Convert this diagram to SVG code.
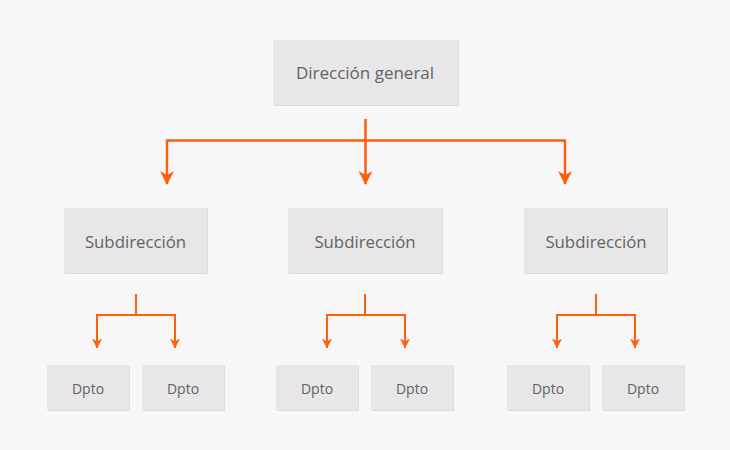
<svg xmlns="http://www.w3.org/2000/svg" width="730" height="450" viewBox="0 0 730 450">
<defs>
<marker id="ab" viewBox="0 0 14 14" refX="7" refY="13" markerWidth="14" markerHeight="14" markerUnits="userSpaceOnUse">
<path d="M0,0 L7,4 L14,0 L7,14 Z" fill="#ff5f0f"/>
</marker>
<marker id="as" viewBox="0 0 10 10" refX="5" refY="9.5" markerWidth="10" markerHeight="10" markerUnits="userSpaceOnUse">
<path d="M0,0 L5,3 L10,0 L5,10 Z" fill="#ff5f0f"/>
</marker>
</defs>
<style>
.bx{fill:#e8e6e8}
.sh{fill:#dcdadc}
.t{font-family:"Open Sans","Noto Sans",sans-serif;fill:#636363;text-anchor:middle;dominant-baseline:central}
.c{fill:none;stroke:#ff5f0f;stroke-linejoin:miter}
</style>
<rect width="730" height="450" fill="#f7f7f7"/>
<g id="connectors">
<path class="c" stroke-width="2.5" d="M365.5,119 V140.5 M167,140.5 H565"/>
<path class="c" stroke-width="2.5" marker-end="url(#ab)" d="M167,139.5 V184"/>
<path class="c" stroke-width="2.5" marker-end="url(#ab)" d="M365.5,140 V184"/>
<path class="c" stroke-width="2.5" marker-end="url(#ab)" d="M565,139.5 V184"/>
<path class="c" stroke-width="2" d="M136,294 V315 M97,315 H175"/>
<path class="c" stroke-width="2" marker-end="url(#as)" d="M97,314 V348"/>
<path class="c" stroke-width="2" marker-end="url(#as)" d="M175,314 V348"/>
<path class="c" stroke-width="2" d="M365,294 V315 M327,315 H405"/>
<path class="c" stroke-width="2" marker-end="url(#as)" d="M327,314 V348"/>
<path class="c" stroke-width="2" marker-end="url(#as)" d="M405,314 V348"/>
<path class="c" stroke-width="2" d="M596,294 V315 M557,315 H635"/>
<path class="c" stroke-width="2" marker-end="url(#as)" d="M557,314 V348"/>
<path class="c" stroke-width="2" marker-end="url(#as)" d="M635,314 V348"/>
</g>
<g id="n-dg"><rect class="sh" x="274" y="41" width="185" height="65"/><rect class="bx" x="273" y="40" width="185" height="65"/><text class="t" x="365" y="72.5" font-size="17">Dirección general</text></g>
<g id="n-s1"><rect class="sh" x="65" y="209" width="143" height="65"/><rect class="bx" x="64" y="208" width="143" height="65"/><text class="t" x="135.5" y="241" font-size="16.8">Subdirección</text></g>
<g id="n-s2"><rect class="sh" x="289" y="209" width="154" height="65"/><rect class="bx" x="288" y="208" width="154" height="65"/><text class="t" x="365" y="241" font-size="16.8">Subdirección</text></g>
<g id="n-s3"><rect class="sh" x="525" y="209" width="143" height="65"/><rect class="bx" x="524" y="208" width="143" height="65"/><text class="t" x="596" y="241" font-size="16.8">Subdirección</text></g>
<g id="n-d1"><rect class="sh" x="48" y="366" width="82" height="45"/><rect class="bx" x="47" y="365" width="82" height="45"/><text class="t" x="88" y="388" font-size="14">Dpto</text></g>
<g id="n-d2"><rect class="sh" x="143" y="366" width="82" height="45"/><rect class="bx" x="142" y="365" width="82" height="45"/><text class="t" x="183" y="388" font-size="14">Dpto</text></g>
<g id="n-d3"><rect class="sh" x="277" y="366" width="82" height="45"/><rect class="bx" x="276" y="365" width="82" height="45"/><text class="t" x="317" y="388" font-size="14">Dpto</text></g>
<g id="n-d4"><rect class="sh" x="372" y="366" width="82" height="45"/><rect class="bx" x="371" y="365" width="82" height="45"/><text class="t" x="412" y="388" font-size="14">Dpto</text></g>
<g id="n-d5"><rect class="sh" x="508" y="366" width="82" height="45"/><rect class="bx" x="507" y="365" width="82" height="45"/><text class="t" x="548" y="388" font-size="14">Dpto</text></g>
<g id="n-d6"><rect class="sh" x="603" y="366" width="82" height="45"/><rect class="bx" x="602" y="365" width="82" height="45"/><text class="t" x="643" y="388" font-size="14">Dpto</text></g>
</svg>
